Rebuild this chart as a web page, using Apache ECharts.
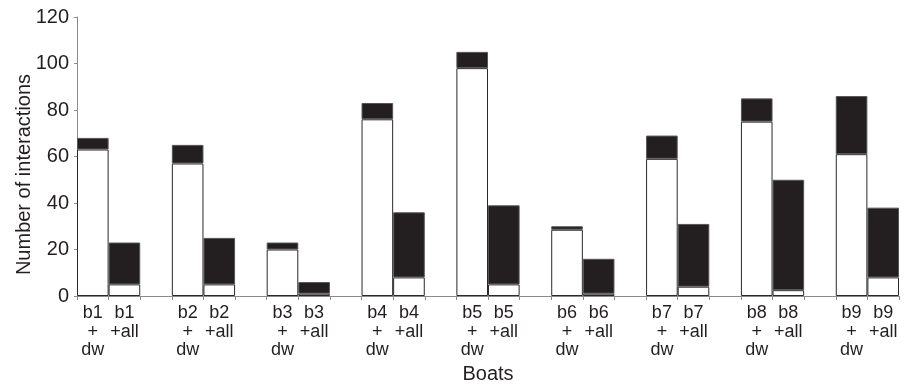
<!DOCTYPE html>
<html>
<head>
<meta charset="utf-8">
<script src="https://cdn.jsdelivr.net/npm/echarts@6/dist/echarts.min.js"></script>
<style>html,body{margin:0;padding:0;background:#fff;}#c{width:908px;height:386px;}</style>
</head>
<body>
<div id="c"></div>
<script>
var boats = ['b1','b2','b3','b4','b5','b6','b7','b8','b9'];
var dwWhite  = [63, 57, 20, 76, 98, 28.5, 59, 75, 61];
var dwBlack  = [5, 8, 3, 7, 7, 1.5, 10, 10, 25];
var allWhite = [5, 5, 1, 8, 5, 1, 4, 2.5, 8];
var allBlack = [18, 20, 5, 28, 34, 15, 27, 47.5, 30];
var yTicks = [0, 20, 40, 60, 80, 100, 120];

var cats = [], whiteData = [], blackData = [];
boats.forEach(function (b, i) {
  cats.push(b + '\n+\ndw'); whiteData.push(dwWhite[i]); blackData.push(dwBlack[i]);
  cats.push(b + '\n+all'); whiteData.push(allWhite[i]); blackData.push(allBlack[i]);
  if (i < boats.length - 1) { cats.push(''); whiteData.push(null); blackData.push(null); }
});

var FONT = '"Liberation Sans", Arial, Helvetica, sans-serif';
var TXT = '#231f20';
var AX = '#8a8a8a';
var chart = echarts.init(document.getElementById('c'), null, {renderer: 'canvas'});
chart.setOption({
  animation: false,
  backgroundColor: '#fff',
  grid: {left: 77, right: 9, top: 17, bottom: 90, containLabel: false, outerBoundsMode: 'none'},
  xAxis: {
    type: 'category',
    data: cats,
    boundaryGap: true,
    name: 'Boats',
    nameLocation: 'middle',
    nameGap: 68,
    nameMoveOverlap: false,
    nameTextStyle: {fontFamily: FONT, fontSize: 20, color: TXT},
    axisLine: {lineStyle: {color: AX, width: 1}},
    axisTick: {show: true, interval: 0, length: 4, lineStyle: {color: AX}},
    axisLabel: {interval: 0, fontFamily: FONT, fontSize: 18, lineHeight: 18.5, color: TXT, margin: 8, align: 'center'}
  },
  yAxis: {
    type: 'value',
    min: 0, max: 120, interval: 20,
    name: 'Number of interactions',
    nameLocation: 'middle',
    nameGap: 43,
    nameMoveOverlap: false,
    nameRotate: 90,
    nameTextStyle: {fontFamily: FONT, fontSize: 20, color: TXT, padding: [0, 36, 0, 0]},
    splitLine: {show: false},
    axisLine: {show: true, lineStyle: {color: AX, width: 1}},
    axisTick: {show: true, length: 3, lineStyle: {color: AX}},
    axisLabel: {fontFamily: FONT, fontSize: 20, color: TXT, margin: 8,
      formatter: function (v) { return yTicks.indexOf(v) >= 0 ? String(v) : ''; }}
  },
  series: [
    {type: 'bar', stack: 's', data: whiteData, barCategoryGap: '0%',
     itemStyle: {color: '#ffffff', borderColor: '#2a2a2a', borderWidth: 1}},
    {type: 'bar', stack: 's', data: blackData,
     itemStyle: {color: '#231f20', borderColor: '#555', borderWidth: 1}}
  ]
});
</script>
</body>
</html>
